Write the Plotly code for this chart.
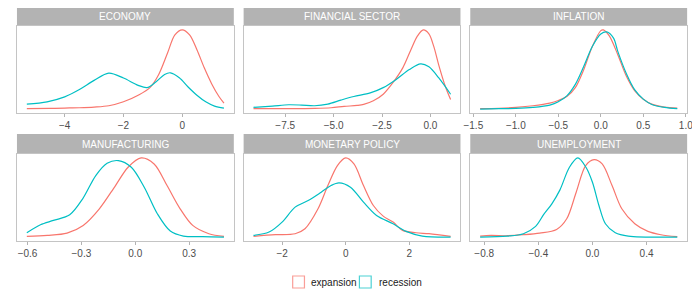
import plotly.graph_objects as go

# ---------------- data ----------------
categories = ["ECONOMY", "FINANCIAL SECTOR", "INFLATION",
              "MANUFACTURING", "MONETARY POLICY", "UNEMPLOYMENT"]
series_names = ["expansion", "recession"]
series_colors = ["#F8766D", "#00BFC4"]

# ECONOMY
economy_exp_x = [-5.29, -4.5, -4.0, -3.5, -3.0, -2.5, -2.0, -1.5, -1.1, -0.8, -0.5, -0.25, 0.0, 0.25, 0.5, 0.75, 1.0, 1.25, 1.42]
economy_exp_y = [0.01, 0.02, 0.03, 0.04, 0.06, 0.10, 0.22, 0.42, 0.65, 1.05, 1.70, 2.25, 2.40, 2.25, 1.80, 1.25, 0.77, 0.38, 0.18]
economy_rec_x = [-5.29, -4.6, -4.0, -3.5, -3.0, -2.5, -2.0, -1.5, -1.2, -0.9, -0.6, -0.4, -0.1, 0.2, 0.5, 0.8, 1.1, 1.42]
economy_rec_y = [0.15, 0.22, 0.37, 0.59, 0.87, 1.09, 0.94, 0.72, 0.65, 0.82, 1.05, 1.10, 0.95, 0.67, 0.42, 0.22, 0.09, 0.03]

# FINANCIAL SECTOR
financial_exp_x = [-9.14, -7.15, -5.98, -5.13, -4.46, -3.79, -3.45, -2.95, -2.44, -1.94, -1.43, -1.01, -0.67, -0.37, -0.08, 0.17, 0.42, 0.76, 1.04]
financial_exp_y = [0.01, 0.01, 0.02, 0.04, 0.08, 0.11, 0.14, 0.25, 0.45, 0.80, 1.25, 1.80, 2.22, 2.40, 2.28, 1.90, 1.35, 0.70, 0.29]
financial_rec_x = [-9.14, -8.16, -7.32, -6.65, -5.98, -5.30, -4.63, -3.96, -3.11, -2.44, -1.77, -1.09, -0.51, -0.08, 0.42, 1.04]
financial_rec_y = [0.05, 0.09, 0.13, 0.12, 0.10, 0.15, 0.27, 0.38, 0.49, 0.65, 0.90, 1.20, 1.37, 1.28, 0.95, 0.45]

# INFLATION
inflation_exp_x = [-1.42, -1.2, -1.0, -0.8, -0.6, -0.5, -0.4, -0.3, -0.2, -0.1, 0.0, 0.03, 0.1, 0.2, 0.3, 0.4, 0.5, 0.6, 0.75, 0.9]
inflation_exp_y = [0.01, 0.02, 0.05, 0.10, 0.18, 0.26, 0.38, 0.65, 1.20, 1.90, 2.38, 2.40, 2.22, 1.65, 1.00, 0.55, 0.30, 0.15, 0.06, 0.03]
inflation_rec_x = [-1.42, -1.2, -1.0, -0.8, -0.6, -0.5, -0.4, -0.3, -0.2, -0.1, 0.0, 0.07, 0.15, 0.2, 0.3, 0.4, 0.5, 0.6, 0.75, 0.9]
inflation_rec_y = [0.00, 0.01, 0.02, 0.05, 0.12, 0.22, 0.40, 0.75, 1.30, 1.90, 2.28, 2.34, 2.15, 1.75, 1.08, 0.58, 0.30, 0.14, 0.05, 0.01]

# MANUFACTURING
manufacturing_exp_x = [-0.604, -0.49, -0.38, -0.29, -0.20, -0.11, -0.04, 0.033, 0.105, 0.177, 0.25, 0.32, 0.41, 0.494]
manufacturing_exp_y = [0.02, 0.05, 0.12, 0.35, 0.85, 1.55, 2.10, 2.38, 2.20, 1.55, 0.85, 0.35, 0.10, 0.02]
manufacturing_rec_x = [-0.604, -0.528, -0.456, -0.365, -0.293, -0.22, -0.157, -0.094, -0.022, 0.05, 0.123, 0.195, 0.268, 0.376, 0.494]
manufacturing_rec_y = [0.13, 0.37, 0.50, 0.67, 1.15, 1.85, 2.22, 2.30, 2.10, 1.50, 0.70, 0.18, 0.03, 0.01, 0.00]

# MONETARY POLICY
monetary_exp_x = [-2.90, -2.21, -1.59, -1.28, -0.87, -0.56, -0.26, 0.0, 0.26, 0.56, 0.87, 1.18, 1.49, 1.79, 2.21, 2.62, 3.30]
monetary_exp_y = [0.02, 0.07, 0.10, 0.25, 0.85, 1.55, 2.15, 2.38, 2.20, 1.55, 0.95, 0.63, 0.45, 0.20, 0.13, 0.10, 0.02]
monetary_rec_x = [-2.90, -2.41, -2.0, -1.59, -1.18, -0.77, -0.46, -0.21, 0.15, 0.56, 0.97, 1.49, 1.90, 2.41, 3.30]
monetary_rec_y = [0.05, 0.15, 0.45, 0.90, 1.10, 1.35, 1.55, 1.63, 1.50, 1.05, 0.65, 0.40, 0.17, 0.03, 0.00]

# UNEMPLOYMENT
unemployment_exp_x = [-0.83, -0.75, -0.63, -0.51, -0.39, -0.265, -0.19, -0.12, -0.05, 0.012, 0.072, 0.145, 0.217, 0.313, 0.41, 0.506, 0.627]
unemployment_exp_y = [0.03, 0.05, 0.04, 0.07, 0.12, 0.23, 0.55, 1.35, 2.15, 2.33, 2.20, 1.55, 0.85, 0.40, 0.17, 0.07, 0.01]
unemployment_rec_x = [-0.83, -0.63, -0.51, -0.42, -0.36, -0.30, -0.24, -0.17, -0.108, -0.048, -0.0, 0.048, 0.096, 0.169, 0.265, 0.627]
unemployment_rec_y = [0.00, 0.03, 0.10, 0.32, 0.68, 1.00, 1.42, 2.10, 2.38, 2.10, 1.65, 0.95, 0.40, 0.13, 0.03, 0.00]

# tick values / labels per panel
economy_ticks = [-4, -2, 0]
financial_ticks = [-7.5, -5.0, -2.5, 0.0]
inflation_ticks = [-1.5, -1.0, -0.5, 0.0, 0.5, 1.0]
manufacturing_ticks = [-0.6, -0.3, 0.0, 0.3]
monetary_ticks = [-2, 0, 2]
unemployment_ticks = [-0.8, -0.4, 0.0, 0.4]

economy_ticktext = ["\u22124", "\u22122", "0"]
financial_ticktext = ["\u22127.5", "\u22125.0", "\u22122.5", "0.0"]
inflation_ticktext = ["\u22121.5", "\u22121.0", "\u22120.5", "0.0", "0.5", "1.0"]
manufacturing_ticktext = ["\u22120.6", "\u22120.3", "0.0", "0.3"]
monetary_ticktext = ["\u22122", "0", "2"]
unemployment_ticktext = ["\u22120.8", "\u22120.4", "0.0", "0.4"]

panels = [
    (economy_exp_x, economy_exp_y, economy_rec_x, economy_rec_y, economy_ticks, economy_ticktext),
    (financial_exp_x, financial_exp_y, financial_rec_x, financial_rec_y, financial_ticks, financial_ticktext),
    (inflation_exp_x, inflation_exp_y, inflation_rec_x, inflation_rec_y, inflation_ticks, inflation_ticktext),
    (manufacturing_exp_x, manufacturing_exp_y, manufacturing_rec_x, manufacturing_rec_y, manufacturing_ticks, manufacturing_ticktext),
    (monetary_exp_x, monetary_exp_y, monetary_rec_x, monetary_rec_y, monetary_ticks, monetary_ticktext),
    (unemployment_exp_x, unemployment_exp_y, unemployment_rec_x, unemployment_rec_y, unemployment_ticks, unemployment_ticktext),
]

# ---------------- layout geometry ----------------
# The page body has an 8px margin, so the figure is sized to fit the
# 700x300 window and positions are given in window pixels minus that offset.
OFF = 8
W, H = 700 - OFF, 300 - OFF
col_px = [(10, 231), (241, 462), (472, 693)]
row_px = [(26, 113), (154, 241)]   # top, bottom of plot panels (window pixels)
strip_h = 20

FONT = "Liberation Sans, Arial, Helvetica, sans-serif"
BORDER = "#c4c4c4"
STRIP = "#b3b3b3"


def px_x(v):
    return (v - OFF) / W


def px_y(v):
    return 1 - (v - OFF) / H


fig = go.Figure()
shapes = []
annotations = []
layout_axes = {}

for i, (cat, pdata) in enumerate(zip(categories, panels)):
    ex, ey, rx, ry, tv, tt = pdata
    r, c = divmod(i, 3)
    k = "" if i == 0 else str(i + 1)
    xd = [px_x(col_px[c][0]), px_x(col_px[c][1])]
    top, bot = row_px[r]
    yd = [px_y(bot), px_y(top)]

    for sx, sy, name, col in ((ex, ey, series_names[0], series_colors[0]),
                              (rx, ry, series_names[1], series_colors[1])):
        fig.add_trace(go.Scatter(
            x=sx, y=sy, mode="lines", name=name,
            line=dict(color=col, width=1.2, shape="spline", smoothing=0.9),
            xaxis="x" + k, yaxis="y" + k, showlegend=False, hoverinfo="skip"))

    allx = ex + rx
    xmin, xmax = min(allx), max(allx)
    pad = 0.05 * (xmax - xmin)
    ymax = max(ey + ry)

    layout_axes["xaxis" + k] = dict(
        domain=xd, anchor="y" + k, range=[xmin - pad, xmax + pad],
        tickvals=tv, ticktext=tt, ticks="outside", ticklen=3, tickwidth=1,
        tickcolor=STRIP, showline=True, mirror=True, linecolor=BORDER, linewidth=1,
        showgrid=False, zeroline=False,
        tickfont=dict(family=FONT, size=10, color="#4d4d4d"))
    layout_axes["yaxis" + k] = dict(
        domain=yd, anchor="x" + k, range=[-0.05 * ymax, 1.05 * ymax],
        showticklabels=False, ticks="", showline=True, mirror=True,
        linecolor=BORDER, linewidth=1, showgrid=False, zeroline=False)

    # facet strip
    s_top = min(1.0, px_y(top - strip_h))
    shapes.append(dict(type="rect", xref="paper", yref="paper",
                       x0=xd[0], x1=xd[1], y0=yd[1], y1=s_top,
                       fillcolor=STRIP, line=dict(width=0), layer="below"))
    annotations.append(dict(text=cat, xref="paper", yref="paper",
                            x=(xd[0] + xd[1]) / 2, y=px_y(top - strip_h / 2),
                            xanchor="center", yanchor="middle", showarrow=False,
                            font=dict(family=FONT, size=10, color="white")))

# legend (drawn manually to match ggplot key layout)
legend_px = [(297, 308), (365, 377)]
for (kx, tx), name, col in zip(legend_px, series_names, series_colors):
    shapes.append(dict(type="rect", xref="paper", yref="paper",
                       x0=px_x(kx - 6), x1=px_x(kx + 6),
                       y0=px_y(288), y1=px_y(276),
                       line=dict(color=col, width=1.2), fillcolor="rgba(0,0,0,0)",
                       opacity=0.7))
    annotations.append(dict(text=name, xref="paper", yref="paper",
                            x=px_x(tx), y=px_y(282), xanchor="left", yanchor="middle",
                            showarrow=False,
                            font=dict(family=FONT, size=10, color="#1a1a1a")))

fig.update_layout(
    width=W, height=H, margin=dict(l=0, r=0, t=0, b=0),
    paper_bgcolor="white", plot_bgcolor="white",
    showlegend=False, shapes=shapes, annotations=annotations,
    font=dict(family=FONT), **layout_axes)

fig.write_html("out.html")
